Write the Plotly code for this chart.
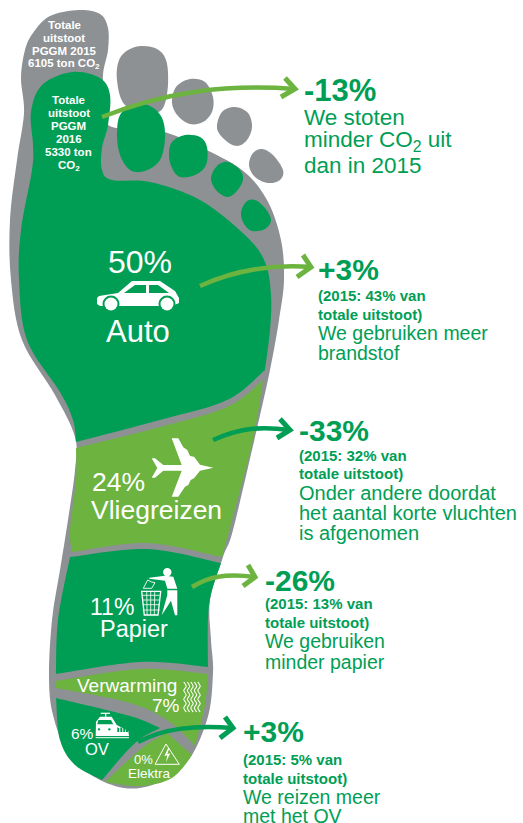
import plotly.graph_objects as go

# ---------- data ----------
categories = ["Auto", "Vliegreizen", "Papier", "Verwarming", "OV", "Elektra"]
shares_2016 = [50, 24, 11, 7, 6, 0]
total_2015 = 6105
total_2016 = 5330
total_change = -13
changes = {"Auto": 3, "Vliegreizen": -33, "Papier": -26, "OV": 3}
shares_2015 = {"Auto": 43, "Vliegreizen": 32, "Papier": 13, "OV": 5}
notes = {
    "Auto": ["We gebruiken meer", "brandstof"],
    "Vliegreizen": ["Onder andere doordat", "het aantal korte vluchten", "is afgenomen"],
    "Papier": ["We gebruiken", "minder papier"],
    "OV": ["We reizen meer", "met het OV"],
}
total_note = ["We stoten", "minder CO<sub>2</sub> uit", "dan in 2015"]

# ---------- style ----------
DARK, LIGHT, GRAY, WHITE = "#009E55", "#6DB33F", "#8D9194", "#FFFFFF"
FONT = "Liberation Sans"
shapes, annotations = [], []


def smooth(pts, closed=False):
    n = len(pts)
    get = (lambda i: pts[i % n]) if closed else (lambda i: pts[max(0, min(n - 1, i))])
    d = f"M{pts[0][0]},{pts[0][1]}"
    for i in range(n if closed else n - 1):
        p0, p1, p2, p3 = get(i - 1), get(i), get(i + 1), get(i + 2)
        c1 = (p1[0] + (p2[0] - p0[0]) / 6, p1[1] + (p2[1] - p0[1]) / 6)
        c2 = (p2[0] - (p3[0] - p1[0]) / 6, p2[1] - (p3[1] - p1[1]) / 6)
        d += f" C{c1[0]:.1f},{c1[1]:.1f} {c2[0]:.1f},{c2[1]:.1f} {p2[0]},{p2[1]}"
    return d + (" Z" if closed else "")


def edges(*segments):
    """Join smooth edges into a closed region with sharp corners."""
    d = ""
    for k, seg in enumerate(segments):
        s = smooth(seg)
        d += s if k == 0 else " " + s[s.index(" C"):]
    return d + " Z"


def fill(path, color):
    shapes.append(dict(type="path", path=path, fillcolor=color, line=dict(width=0), xref="x", yref="y"))


def stroke(path, color, width):
    shapes.append(dict(type="path", path=path, line=dict(color=color, width=width), xref="x", yref="y"))


def circle(cx, cy, r, color):
    shapes.append(dict(type="circle", x0=cx - r, x1=cx + r, y0=cy - r, y1=cy + r,
                       fillcolor=color, line=dict(width=0), xref="x", yref="y"))


def poly(pts, ox=0, oy=0, s=1.0, closed=True):
    d = "M" + " L".join(f"{ox + x * s:.1f},{oy + y * s:.1f}" for x, y in pts)
    return d + (" Z" if closed else "")


def label(x, y, text, size, color=WHITE, bold=False, anchor="center"):
    if bold:
        text = f"<b>{text}</b>"
    if anchor == "left":
        x -= 1
    annotations.append(dict(x=x, y=y, text=text, showarrow=False, xanchor=anchor, yanchor="middle",
                            xref="x", yref="y", align=anchor, borderpad=0,
                            font=dict(family=FONT, size=size, color=color)))


# ---------- foot ----------
fill(smooth([(24, 113), (21, 78), (25, 50), (33, 33), (50, 16), (79, 10), (100, 14), (108, 28), (108, 50), (103, 75),
             (104, 110), (112, 127), (160, 131), (200, 147), (242, 170), (267, 200), (281, 240), (284, 280),
             (279, 320), (270, 370), (255, 437), (233, 530), (223, 557), (210, 600), (211, 640), (213, 673),
             (207, 720), (183, 767), (140, 788), (100, 780), (68, 752), (53, 715), (49, 677), (52, 620), (60, 570),
             (68, 520), (75, 470), (75, 437), (55, 395), (22, 340), (11, 280), (10, 220), (17, 160)],
            closed=True), GRAY)

for t in ([(117, 80), (120, 58), (135, 47), (155, 48), (166, 60), (168, 85), (163, 108), (150, 113), (125, 105)],
          [(172, 103), (176, 87), (190, 79), (205, 82), (213, 97), (212, 112), (203, 122), (190, 124), (178, 116)],
          [(217, 128), (222, 112), (235, 107), (248, 113), (252, 127), (247, 140), (237, 146), (225, 140)],
          [(249, 165), (253, 153), (262, 149), (273, 155), (283, 170), (280, 180), (268, 183), (255, 177)]):
    fill(smooth(t, closed=True), GRAY)

# Auto + big toe
fill(edges([(76, 442), (160, 420), (227, 400), (265, 370)],
           [(265, 370), (270, 330), (271, 295), (265, 262), (245, 235), (200, 200), (150, 182), (112, 180), (102, 170),
            (102, 148), (108, 125), (110, 95), (100, 78), (72, 72), (42, 85), (31, 112), (33, 145), (32, 170),
            (21, 230), (19, 280), (27, 340), (60, 392), (73, 420), (76, 442)]), DARK)
for t in ([(117, 135), (120, 115), (133, 105), (150, 106), (162, 118), (165, 138), (160, 160), (145, 171), (130, 170),
           (120, 155)],
          [(169, 155), (172, 142), (185, 135), (200, 137), (207, 147), (206, 165), (195, 175), (180, 177), (172, 168)],
          [(211, 178), (217, 166), (228, 162), (240, 170), (243, 180), (236, 192), (227, 197), (216, 190)],
          [(241, 213), (246, 202), (255, 200), (265, 208), (271, 220), (265, 229), (252, 231), (244, 224)]):
    fill(smooth(t, closed=True), DARK)

# Vliegreizen
fill(edges([(76, 448), (160, 427), (227, 407), (263, 380)],
           [(263, 380), (253, 440), (232, 520), (222, 557)],
           [(222, 557), (147, 543), (72, 552)],
           [(72, 552), (70, 530), (76, 480), (76, 448)]), LIGHT)
# Papier
fill(edges([(70, 557), (147, 549), (221, 563)],
           [(221, 563), (209, 605), (208, 667)],
           [(208, 667), (140, 662), (56, 674)],
           [(56, 674), (58, 620), (70, 557)]), DARK)
# Verwarming
fill(edges([(56, 681), (140, 669), (208, 674)],
           [(208, 674), (205, 705), (195, 746)],
           [(195, 746), (170, 722), (130, 703), (56, 688)],
           [(56, 688), (56, 681)]), LIGHT)
# OV
fill(edges([(56, 698), (130, 716), (160, 728)],
           [(160, 728), (135, 743), (102, 780)],
           [(102, 780), (75, 765), (60, 740), (56, 698)]), DARK)
# Elektra
fill(edges([(167, 733), (192, 755)],
           [(192, 755), (172, 778), (140, 786), (105, 782)],
           [(105, 782), (142, 748), (167, 733)]), LIGHT)

# ---------- icons ----------
# car
fill(poly([(97, 298), (99, 296), (118, 293), (132, 281), (160, 281), (175, 291), (179, 298), (179, 303), (172, 306),
           (100, 306), (97, 304)]), WHITE)
fill(poly([(124, 293), (135, 285), (146, 285), (146, 293)]), DARK)
fill(poly([(149, 285), (158, 285), (169, 293), (149, 293)]), DARK)
for cx in (111, 167):
    circle(cx, 304, 8.5, DARK)
    circle(cx, 304, 6.5, WHITE)
# plane
fill(poly([(460, 713), (420, 704), (402, 680), (390, 678), (382, 660), (370, 652), (355, 625), (335, 625), (365, 705),
           (310, 705), (285, 685), (275, 685), (292, 714), (275, 743), (285, 743), (310, 722), (365, 722),
           (335, 800), (355, 800), (375, 770), (385, 765), (392, 750), (402, 745), (420, 722)], 60, 230, 1 / 3), WHITE)
# person with bin
circle(167.3, 572.3, 4.2, WHITE)
fill(poly([(178, 53), (225, 47), (250, 50), (262, 86), (232, 86), (225, 62), (178, 56)], 90, 560, 1 / 3), WHITE)
fill(poly([(232, 91), (262, 91), (262, 166), (255, 166), (243, 122), (215, 166), (232, 105)], 90, 560, 1 / 3), WHITE)
stroke(poly([(160, 85), (173, 60), (185, 66), (195, 68), (185, 85)], 90, 560, 1 / 3), WHITE, 0.9)
stroke(poly([(155, 94), (212, 94), (204, 165), (163, 165)], 90, 560, 1 / 3), WHITE, 1.3)
for y in (106, 120, 134, 150):
    stroke(poly([(158, y), (209, y)], 90, 560, 1 / 3, closed=False), WHITE, 0.8)
for x in (170, 182, 194):
    stroke(poly([(x, 94), (x + (183 - x) * 0.1, 165)], 90, 560, 1 / 3, closed=False), WHITE, 0.8)
# heat waves
for x in (185, 188.5, 192, 195.5, 199):
    stroke(smooth([(x + (1.2 if i % 2 else -1.2), 682 + i * 4.3) for i in range(8)]), WHITE, 1.1)
# train
fill(poly([(107, 198), (108, 155), (120, 140), (155, 140), (170, 165), (205, 183), (207, 198)], 60, 670, 1 / 3), WHITE)
fill(poly([(115, 150), (153, 150), (160, 163), (112, 163)], 60, 670, 1 / 3), DARK)
for x in (172, 181, 190, 198):
    fill(poly([(x, 172), (x + 6, 175), (x + 6, 186), (x, 186)], 60, 670, 1 / 3), DARK)
stroke(poly([(107, 203), (207, 203)], 60, 670, 1 / 3, closed=False), WHITE, 1)
stroke(poly([(122, 130), (150, 130)], 60, 670, 1 / 3, closed=False), WHITE, 1.2)
stroke(poly([(137, 130), (137, 140)], 60, 670, 1 / 3, closed=False), WHITE, 1.2)
circle(60 + 117 / 3, 670 + 178 / 3, 1.2, DARK)
circle(60 + 148 / 3, 670 + 178 / 3, 1.2, DARK)
# high voltage sign
stroke(poly([(318, 222), (285, 283), (358, 283)], 60, 670, 1 / 3), WHITE, 1)
fill(poly([(324, 235), (313, 258), (322, 256), (318, 276), (331, 250), (322, 252), (328, 235)], 60, 670, 1 / 3), WHITE)

# ---------- arrows ----------
arrows = [
    ("M102,117 C165,92 225,84 295,89", "M285,78 L295,89 L281,97", LIGHT),
    ("M200,286 C235,270 270,264 311,267", "M303,255 L311,267 L297,277", LIGHT),
    ("M213,440 C240,428 260,426 290,430", "M280,419 L290,430 L277,438", DARK),
    ("M192,587 C208,577 225,573 255,577", "M248,565 L255,577 L243,586", LIGHT),
    ("M138,742 C165,728 195,725 233,728", "M225,717 L233,728 L220,738", DARK),
]
for curve, head, color in arrows:
    shapes.append(dict(type="path", path=curve, line=dict(color=color, width=4.5), xref="x", yref="y"))
    shapes.append(dict(type="path", path=head, line=dict(color=color, width=5), xref="x", yref="y"))


# ---------- text in the foot ----------
def pct(name):
    return f"{shares_2016[categories.index(name)]}%"


for y, t in zip((25, 38, 51, 64), ("Totale", "uitstoot", "PGGM 2015", f"{total_2015} ton CO<sub>2</sub>")):
    label(64, y, t, 11.5, bold=True)
for y, t in zip((100, 113, 126, 139, 152, 166),
                ("Totale", "uitstoot", "PGGM", "2016", f"{total_2016} ton", "CO<sub>2</sub>")):
    label(68.5, y, t, 11.5, bold=True)

label(140, 262, pct("Auto"), 32)
label(137.5, 331, "Auto", 31)
label(92, 482, pct("Vliegreizen"), 26.5, anchor="left")
label(91, 510, "Vliegreizen", 26.5, anchor="left")
label(90, 607, pct("Papier"), 23, anchor="left")
label(100, 629, "Papier", 23.5, anchor="left")
label(77, 685, "Verwarming", 19, anchor="left")
label(181, 705, pct("Verwarming"), 19, anchor="right")
label(71, 733, pct("OV"), 15.5, anchor="left")
label(96.5, 749, "OV", 16.5)
label(134, 759, pct("Elektra"), 13, anchor="left")
label(149, 773, "Elektra", 13.5)

# ---------- text on the right ----------
label(304, 90, f"{total_change:+d}%", 31, DARK, True, "left")
for y, t in zip((117, 141, 165), total_note):
    label(304, y, t, 22.5, DARK, anchor="left")


def block(name, x, y_head, y_bold, y_note, size):
    label(x, y_head, f"{changes[name]:+d}%", 30, DARK, True, "left")
    label(x, y_bold[0], f"(2015: {shares_2015[name]}% van", 15, DARK, True, "left")
    label(x, y_bold[1], "totale uitstoot)", 15, DARK, True, "left")
    for y, t in zip(y_note, notes[name]):
        label(x, y, t, size, DARK, anchor="left")


block("Auto", 318, 269, (295, 314), (333, 353), 19.5)
block("Vliegreizen", 299, 430, (455, 473), (493, 513, 533), 20)
block("Papier", 265, 580, (603, 622), (641, 662), 19.5)
block("OV", 243, 731, (759, 778), (797, 816), 19.5)

fig = go.Figure()
fig.update_layout(width=523, height=823, margin=dict(l=0, r=0, t=0, b=0),
                  paper_bgcolor="white", plot_bgcolor="white", showlegend=False,
                  xaxis=dict(range=[0, 523], visible=False, fixedrange=True),
                  yaxis=dict(range=[823, 0], visible=False, fixedrange=True),
                  shapes=shapes, annotations=annotations)
fig.write_html("out.html", config=dict(displayModeBar=False),
               post_script="document.body.style.margin='0';")
